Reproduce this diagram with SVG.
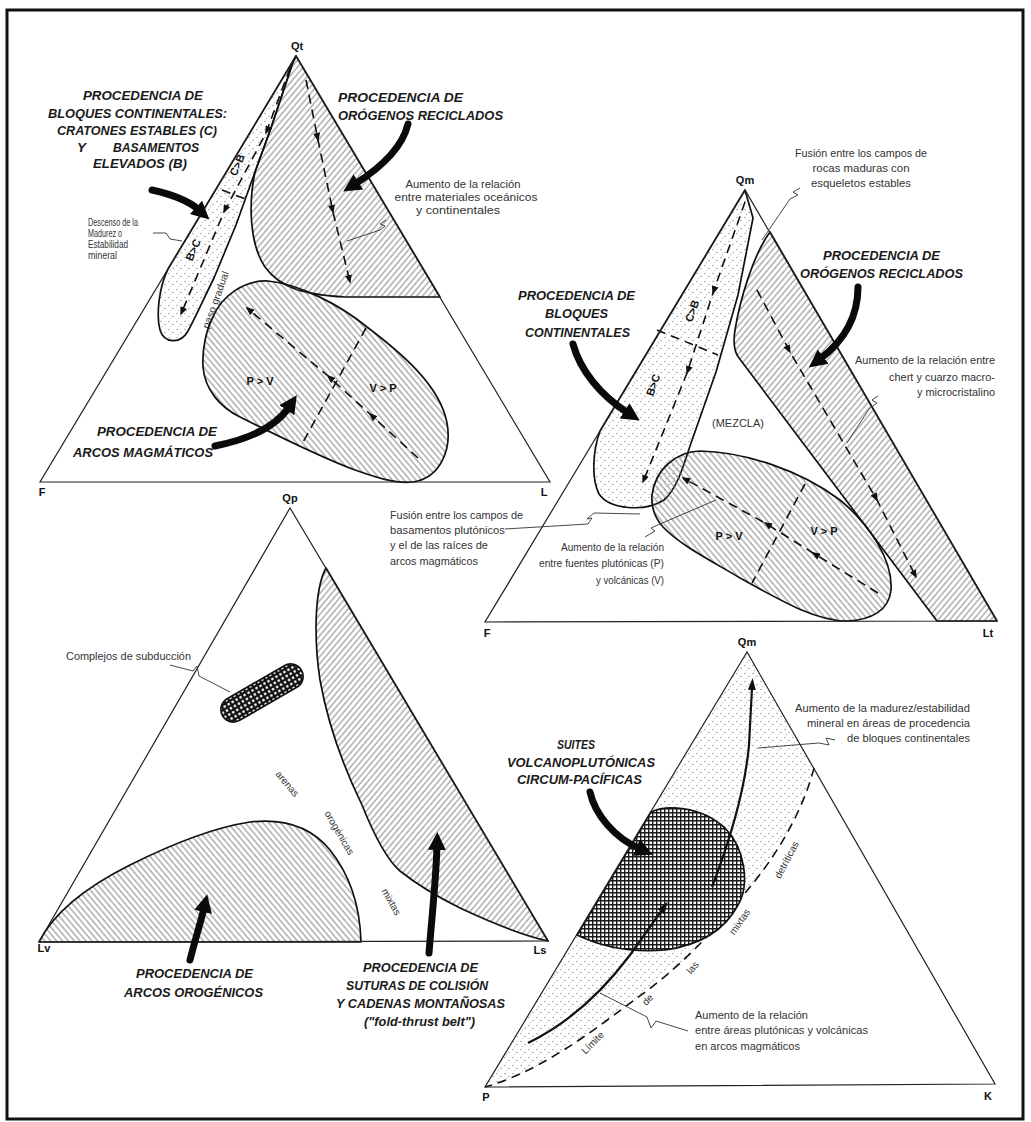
<svg xmlns="http://www.w3.org/2000/svg" width="1031" height="1122" viewBox="0 0 1031 1122">
<style>
.tri{fill:none;stroke:#222;stroke-width:1.2}
.reg{stroke:#111;stroke-width:1.7;stroke-linejoin:round}
.dash{fill:none;stroke:#111;stroke-width:1.6;stroke-dasharray:9 6}
.dsh{fill:none;stroke:#111;stroke-width:1.6;stroke-dasharray:9 6;marker-mid:url(#sm);marker-end:url(#sm)}
.big{fill:none;stroke:#0a0a0a;stroke-width:7;stroke-linecap:round;marker-end:url(#big)}
.sol{fill:none;stroke:#111;stroke-width:2.2;marker-end:url(#med)}
.lead{fill:none;stroke:#333;stroke-width:0.9}
.t{font-family:"Liberation Sans",Arial,sans-serif;font-weight:bold;font-style:italic;font-size:13.5px;fill:#1a1a1a}
.s{font-family:"Liberation Sans",Arial,sans-serif;font-size:10px;fill:#333}
.v{font-family:"Liberation Sans",Arial,sans-serif;font-weight:bold;font-size:11px;fill:#111;text-anchor:middle}
.m{text-anchor:middle}
.e{text-anchor:end}
</style>
<defs>
<pattern id="hF" width="4.5" height="4.5" patternUnits="userSpaceOnUse" patternTransform="rotate(40)"><line x1="1" y1="0" x2="1" y2="4.5" stroke="#666" stroke-width="0.8"/></pattern>
<pattern id="hB" width="4.5" height="4.5" patternUnits="userSpaceOnUse" patternTransform="rotate(-40)"><line x1="1" y1="0" x2="1" y2="4.5" stroke="#666" stroke-width="0.8"/></pattern>
<pattern id="dots" width="8" height="8" patternUnits="userSpaceOnUse"><circle cx="1" cy="1.5" r="0.65" fill="#888"/><circle cx="5" cy="4.5" r="0.65" fill="#888"/><circle cx="2.5" cy="6.5" r="0.5" fill="#999"/></pattern>
<pattern id="grid" width="4" height="4" patternUnits="userSpaceOnUse"><rect width="4" height="4" fill="#fff"/><path d="M0,0.7H4M0.7,0V4" stroke="#1a1a1a" stroke-width="1.4"/></pattern>
<pattern id="net" width="4.6" height="4.6" patternUnits="userSpaceOnUse"><rect width="4.6" height="4.6" fill="#111"/><circle cx="2.3" cy="2.3" r="1.3" fill="#fff"/></pattern>
<marker id="big" viewBox="0 0 20 20" refX="4" refY="10" markerWidth="20" markerHeight="20" markerUnits="userSpaceOnUse" orient="auto"><path d="M0,1 L18,10 L0,19 Z" fill="#0a0a0a"/></marker>
<marker id="sm" viewBox="0 0 10 8" refX="8" refY="4" markerWidth="9" markerHeight="7" markerUnits="userSpaceOnUse" orient="auto"><path d="M0,0 L10,4 L0,8 Z" fill="#111"/></marker>
<marker id="med" viewBox="0 0 12 8" refX="2" refY="4" markerWidth="12" markerHeight="8" markerUnits="userSpaceOnUse" orient="auto"><path d="M0,0 L12,4 L0,8 Z" fill="#111"/></marker>
</defs>
<rect width="1031" height="1122" fill="#fff"/>
<rect id="frame" x="7" y="10" width="1016" height="1109" fill="none" stroke="#111" stroke-width="3"/>

<!-- Diagram 1: Qt-F-L -->
<g id="qt-f-l">
 <g id="qt-bloques">
  <path class="reg" fill="url(#dots)" d="M296,56 L168,269 C159,287 156,315 160,330 C164,343 180,345 188,331 C196,316 205,296 214,278 L236,225 L255,172 L271,128 L293,62 Z"/>
  <path class="dsh" d="M290,68 L266,133 L224,212 L181,314"/>
  <path class="dash" d="M222,190 L248,200"/>
  <text class="v" transform="translate(237,165) rotate(-67)" y="4">C&gt;B</text>
  <text class="v" transform="translate(193,250) rotate(-67)" y="4">B&gt;C</text>
  <text class="s" font-size="9.5" transform="translate(216,300) rotate(-70)" y="3" text-anchor="middle" textLength="60" lengthAdjust="spacingAndGlyphs">paso gradual</text>
 </g>
 <g id="qt-orogenos">
  <path class="reg" fill="url(#hF)" d="M296,56 L293,62 L271,128 L255,172 C248,205 250,245 265,267 C280,288 305,295 345,297 L440,297 Z"/>
  <path class="dsh" d="M306,80 L318,140 L333,212 L350,282"/>
 </g>
 <g id="qt-arcos">
  <path class="reg" fill="url(#hB)" d="M213,317 C222,295 245,280 268,281 C300,284 340,305 367,327 C400,352 440,385 447,423 C452,450 440,478 413,482 C395,484 375,477 355,470 C320,457 270,432 240,417 C220,407 205,390 203,367 C202,350 206,330 213,317 Z"/>
  <path class="dsh" d="M418,458 L370,414 L328,376 L247,308"/>
  <path class="dash" d="M366,328 L302,444"/>
  <text class="v" font-size="12" x="260" y="385">P &gt; V</text>
  <text class="v" font-size="12" x="383" y="392">V &gt; P</text>
 </g>
 <path class="tri" d="M296,56 L40,482 L550,482 Z"/>
 <text class="v" x="297" y="50">Qt</text>
 <text class="v" x="42" y="496">F</text>
 <text class="v" x="544" y="496">L</text>
 <g id="qt-textos">
  <text class="t" x="83" y="100" textLength="120" lengthAdjust="spacingAndGlyphs">PROCEDENCIA DE</text>
  <text class="t" x="48" y="118" textLength="179" lengthAdjust="spacingAndGlyphs">BLOQUES CONTINENTALES:</text>
  <text class="t" x="57" y="135" textLength="160" lengthAdjust="spacingAndGlyphs">CRATONES ESTABLES (C)</text>
  <text class="t" x="77" y="152">Y</text>
  <text class="t" x="113" y="152" textLength="86" lengthAdjust="spacingAndGlyphs">BASAMENTOS</text>
  <text class="t" x="93" y="168" textLength="94" lengthAdjust="spacingAndGlyphs">ELEVADOS (B)</text>
  <text class="t" x="338" y="102" textLength="125" lengthAdjust="spacingAndGlyphs">PROCEDENCIA DE</text>
  <text class="t" x="338" y="120" textLength="165" lengthAdjust="spacingAndGlyphs">ORÓGENOS RECICLADOS</text>
  <text class="t" x="97" y="436" textLength="120" lengthAdjust="spacingAndGlyphs">PROCEDENCIA DE</text>
  <text class="t" x="73" y="457" textLength="140" lengthAdjust="spacingAndGlyphs">ARCOS MAGMÁTICOS</text>
  <text class="s m" x="463" y="188" textLength="115" lengthAdjust="spacingAndGlyphs">Aumento de la relación</text>
  <text class="s m" x="466" y="201" textLength="143" lengthAdjust="spacingAndGlyphs">entre materiales oceánicos</text>
  <text class="s m" x="458" y="214" textLength="84" lengthAdjust="spacingAndGlyphs">y continentales</text>
  <text class="s" font-size="9.5" x="88" y="226" textLength="50" lengthAdjust="spacingAndGlyphs">Descenso de la</text>
  <text class="s" font-size="9.5" x="88" y="237" textLength="34" lengthAdjust="spacingAndGlyphs">Madurez o</text>
  <text class="s" font-size="9.5" x="88" y="248" textLength="40" lengthAdjust="spacingAndGlyphs">Estabilidad</text>
  <text class="s" font-size="9.5" x="88" y="259" textLength="29" lengthAdjust="spacingAndGlyphs">mineral</text>
 </g>
</g>

<!-- Diagram 2: Qm-F-Lt -->
<g id="qm-f-lt">
 <g id="qm1-bloques">
  <path class="reg" fill="url(#dots)" d="M745,190 L600,431 C593,450 591,478 599,494 C610,510 645,512 664,500 C676,490 683,468 690,446 L716,372 L738,295 L753,218 Z"/>
  <path class="dsh" d="M745,202 L713,293 L687,373 L643,482"/>
  <path class="dash" d="M657,330 L718,355"/>
  <text class="v" transform="translate(692,311) rotate(-70)" y="4">C&gt;B</text>
  <text class="v" transform="translate(653,385) rotate(-70)" y="4">B&gt;C</text>
 </g>
 <g id="qm1-orogenos">
  <path class="reg" fill="url(#hF)" d="M770,232 C753,255 740,300 735,330 C733,343 734,352 739,358 L937,621 L997,621 Z"/>
  <path class="dsh" d="M757,290 L790,352 L877,500 L916,577"/>
 </g>
 <g id="qm1-arcos">
  <path class="reg" fill="url(#hB)" d="M652,495 C655,470 675,452 700,451 C745,452 800,470 840,500 C870,525 893,560 891,590 C889,610 872,620 847,621 C815,621 780,600 740,578 C710,560 680,545 663,527 C655,518 651,507 652,495 Z"/>
  <path class="dsh" d="M878,593 L813,553 L765,523 L683,478"/>
  <path class="dash" d="M805,484 L752,583"/>
  <text class="v" font-size="12" x="729" y="540">P &gt; V</text>
  <text class="v" font-size="12" x="824" y="535">V &gt; P</text>
 </g>
 <path class="tri" d="M745,190 L485,622 L997,621 Z"/>
 <text class="v" x="745" y="184">Qm</text>
 <text class="v" x="487" y="637">F</text>
 <text class="v" x="988" y="637">Lt</text>
 <g id="qm1-textos">
  <text class="s m" x="738" y="427" textLength="52" lengthAdjust="spacingAndGlyphs">(MEZCLA)</text>
  <text class="t" x="518" y="300" textLength="117" lengthAdjust="spacingAndGlyphs">PROCEDENCIA DE</text>
  <text class="t" x="545" y="318" textLength="63" lengthAdjust="spacingAndGlyphs">BLOQUES</text>
  <text class="t" x="525" y="337" textLength="105" lengthAdjust="spacingAndGlyphs">CONTINENTALES</text>
  <text class="t" x="823" y="260" textLength="117" lengthAdjust="spacingAndGlyphs">PROCEDENCIA DE</text>
  <text class="t" x="800" y="278" textLength="163" lengthAdjust="spacingAndGlyphs">ORÓGENOS RECICLADOS</text>
  <text class="s m" x="861" y="157" textLength="132" lengthAdjust="spacingAndGlyphs">Fusión entre los campos de</text>
  <text class="s m" x="861" y="172" textLength="97" lengthAdjust="spacingAndGlyphs">rocas maduras con</text>
  <text class="s m" x="861" y="187" textLength="100" lengthAdjust="spacingAndGlyphs">esqueletos estables</text>
  <text class="s e" x="995" y="364" textLength="140" lengthAdjust="spacingAndGlyphs">Aumento de la relación entre</text>
  <text class="s e" x="995" y="381" textLength="106" lengthAdjust="spacingAndGlyphs">chert y cuarzo macro-</text>
  <text class="s e" x="995" y="396" textLength="78" lengthAdjust="spacingAndGlyphs">y microcristalino</text>
  <text class="s" x="390" y="519" textLength="133" lengthAdjust="spacingAndGlyphs">Fusión entre los campos de</text>
  <text class="s" x="390" y="534" textLength="115" lengthAdjust="spacingAndGlyphs">basamentos plutónicos</text>
  <text class="s" x="390" y="549" textLength="98" lengthAdjust="spacingAndGlyphs">y el de las raíces de</text>
  <text class="s" x="390" y="565" textLength="88" lengthAdjust="spacingAndGlyphs">arcos magmáticos</text>
  <text class="s e" x="664" y="551" textLength="103" lengthAdjust="spacingAndGlyphs">Aumento de la relación</text>
  <text class="s e" x="664" y="567" textLength="125" lengthAdjust="spacingAndGlyphs">entre fuentes plutónicas (P)</text>
  <text class="s e" x="664" y="584" textLength="68" lengthAdjust="spacingAndGlyphs">y volcánicas (V)</text>
 </g>
</g>

<!-- Diagram 3: Qp-Lv-Ls -->
<g id="qp-lv-ls">
 <g id="qp-suturas">
  <path class="reg" fill="url(#hF)" d="M326,568 C314,590 314,640 320,680 C328,725 345,770 362,805 C372,830 385,858 400,871 C420,887 440,898 460,908 C490,922 520,935 548,941 Z"/>
 </g>
 <g id="qp-arcos">
  <path class="reg" fill="url(#hB)" d="M39,942 C55,910 90,885 130,865 C170,845 210,828 250,822 C285,818 312,828 330,850 C350,875 360,905 361,942 Z"/>
 </g>
 <g id="qp-subduccion">
  <rect class="reg" x="-45.5" y="-12.5" width="91" height="25" rx="12.5" fill="url(#net)" transform="translate(262,693) rotate(-30)"/>
 </g>
 <path class="tri" d="M290,508 L39,942 L548,941 Z"/>
 <text class="v" x="290" y="502">Qp</text>
 <text class="v" x="44" y="952">Lv</text>
 <text class="v" x="540" y="954">Ls</text>
 <g id="qp-textos">
  <text class="s" x="66" y="660" textLength="125" lengthAdjust="spacingAndGlyphs">Complejos de subducción</text>
  <text class="s m" transform="translate(287,784) rotate(50)" y="3">arenas</text>
  <text class="s m" transform="translate(339,833) rotate(60)" y="3">orogénicas</text>
  <text class="s m" transform="translate(391,902) rotate(60)" y="3">mixtas</text>
  <text class="t" x="136" y="978" textLength="117" lengthAdjust="spacingAndGlyphs">PROCEDENCIA DE</text>
  <text class="t" x="124" y="997" textLength="139" lengthAdjust="spacingAndGlyphs">ARCOS OROGÉNICOS</text>
  <text class="t" x="363" y="972" textLength="115" lengthAdjust="spacingAndGlyphs">PROCEDENCIA DE</text>
  <text class="t" x="346" y="990" textLength="142" lengthAdjust="spacingAndGlyphs">SUTURAS DE COLISIÓN</text>
  <text class="t" x="336" y="1008" textLength="169" lengthAdjust="spacingAndGlyphs">Y CADENAS MONTAÑOSAS</text>
  <text class="t" x="364" y="1026" textLength="111" lengthAdjust="spacingAndGlyphs">("fold-thrust belt")</text>
 </g>
</g>

<!-- Diagram 4: Qm-P-K -->
<g id="qm-p-k">
 <g id="qm2-bloques">
  <path fill="url(#dots)" d="M747,652 L814,768 C806,800 785,845 750,887 C720,925 680,968 637,998 C600,1025 545,1070 485,1087 Z"/>
  <path class="dash" d="M814,768 C806,800 785,845 750,887 C720,925 680,968 637,998 C600,1025 545,1070 485,1087"/>
 </g>
 <g id="qm2-suites">
  <path class="reg" fill="url(#grid)" d="M577,935 L651,812 C665,805 700,805 725,828 C745,848 750,885 738,905 C725,930 700,945 665,950 C630,953 600,946 577,935 Z"/>
 </g>
 <path class="tri" d="M747,652 L485,1087 L995,1084 Z"/>
 <text class="v" x="747" y="646">Qm</text>
 <text class="v" x="486" y="1101">P</text>
 <text class="v" x="988" y="1100">K</text>
 <g id="qm2-textos">
  <text class="t" x="557" y="749" textLength="38" lengthAdjust="spacingAndGlyphs">SUITES</text>
  <text class="t" x="507" y="767" textLength="148" lengthAdjust="spacingAndGlyphs">VOLCANOPLUTÓNICAS</text>
  <text class="t" x="517" y="784" textLength="125" lengthAdjust="spacingAndGlyphs">CIRCUM-PACÍFICAS</text>
  <text class="s e" x="970" y="712" textLength="175" lengthAdjust="spacingAndGlyphs">Aumento de la madurez/estabilidad</text>
  <text class="s e" x="970" y="727" textLength="163" lengthAdjust="spacingAndGlyphs">mineral en áreas de procedencia</text>
  <text class="s e" x="970" y="742" textLength="123" lengthAdjust="spacingAndGlyphs">de bloques continentales</text>
  <text class="s" x="695" y="1019" textLength="113" lengthAdjust="spacingAndGlyphs">Aumento de la relación</text>
  <text class="s" x="695" y="1034" textLength="173" lengthAdjust="spacingAndGlyphs">entre áreas plutónicas y volcánicas</text>
  <text class="s" x="695" y="1050" textLength="105" lengthAdjust="spacingAndGlyphs">en arcos magmáticos</text>
  <text class="s m" transform="translate(593,1043) rotate(-45)" y="3">Límite</text>
  <text class="s m" transform="translate(648,1000) rotate(-45)" y="3">de</text>
  <text class="s m" transform="translate(693,968) rotate(-50)" y="3">las</text>
  <text class="s m" transform="translate(740,922) rotate(-55)" y="3">mixtas</text>
  <text class="s m" transform="translate(787,860) rotate(-62)" y="3">detríticas</text>
 </g>
</g>

<g id="connectors">
 <path class="big" d="M152,190 C170,194 188,200 199,210"/>
 <path class="big" d="M408,124 C403,145 385,165 355,184"/>
 <path class="big" d="M215,446 C245,440 275,428 289,407"/>
 <path class="big" d="M573,344 C580,370 600,395 628,413"/>
 <path class="big" d="M858,287 C858,315 845,340 820,359"/>
 <path class="big" d="M190,960 C195,940 200,925 204,908"/>
 <path class="big" d="M429,953 C432,915 436,880 437,846"/>
 <path class="big" d="M590,792 C595,815 615,838 640,849"/>
 <path class="sol" d="M712,887 C730,840 745,790 749,745 L752,688"/>
 <path class="sol" d="M528,1043 C565,1025 600,995 630,955 L662,910"/>
 <path class="lead" d="M347,241 L380,230 L385,226 L380,224 L386,220"/>
 <path class="lead" d="M153,233 L166,233 L170,239 L182,241"/>
 <path class="lead" d="M800,188 L793,192 L798,195 L790,199 L762,240"/>
 <path class="lead" d="M878,396 L872,400 L877,403 L869,409 L847,443"/>
 <path class="lead" d="M505,529 L588,524 L592,518 L587,519 L594,513 L640,514"/>
 <path class="lead" d="M645,537 L655,531 L651,528 L660,524 L716,500"/>
 <path class="lead" d="M170,665 L193,671 L197,666 L199,676 L230,692"/>
 <path class="lead" d="M835,740 L826,738 L829,745 L819,743 L758,748"/>
 <path class="lead" d="M688,1031 L656,1021 L651,1028 L647,1017 L600,993"/>
</g>
</svg>
